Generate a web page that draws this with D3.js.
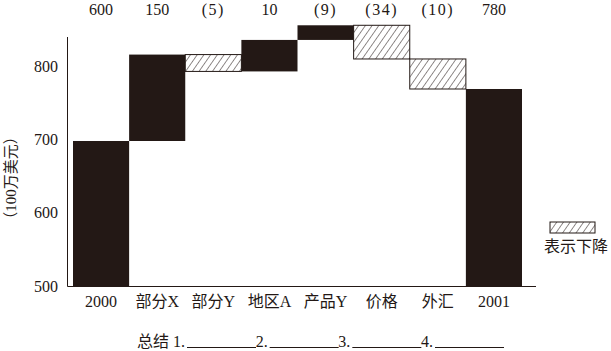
<!DOCTYPE html>
<html>
<head>
<meta charset="utf-8">
<script src="https://cdn.jsdelivr.net/npm/d3@7"></script>
<style>
  body { margin: 0; background: #fff; }
  svg text { font-family: "Times New Roman", "Liberation Serif", Tinos, "DejaVu Serif", "Noto Sans CJK SC", serif; fill: #231815; }
</style>
</head>
<body>
<svg id="chart" width="611" height="351"></svg>
<script>
// 数据
const categories = ['2000', '部分X', '部分Y', '地区A', '产品Y', '价格', '外汇', '2001'];
const changeLabels = ['600', '150', '(5)', '10', '(9)', '(34)', '(10)', '780'];
const barStart = [500, 698, 816, 793, 836, 856, 810, 500];
const barEnd = [698, 816, 793, 836, 856, 810, 769, 769];
const isDecline = [false, false, true, false, false, true, true, false];
const yTicks = [500, 600, 700, 800];
const summaryItems = ['1.', '2.', '3.', '4.'];

const ink = '#231815';
const svg = d3.select('#chart');

// 图案：斜线
svg.append('defs').append('pattern')
    .attr('id', 'hatch')
    .attr('patternUnits', 'userSpaceOnUse')
    .attr('width', 5.5)
    .attr('height', 5.5)
    .attr('patternTransform', 'rotate(35)')
    .append('line')
    .attr('x1', 0).attr('y1', 0)
    .attr('x2', 0).attr('y2', 5.5)
    .attr('stroke', ink)
    .attr('stroke-width', 1);

const x = d3.scaleBand().domain(categories).range([73, 522]).padding(0);
const y = d3.scaleLinear().domain([500, 840]).range([286, 37]);

const bars = categories.map((c, i) => ({
    cat: c, label: changeLabels[i], from: barStart[i], to: barEnd[i], down: isDecline[i]
}));

// 柱子
svg.selectAll('.bar')
    .data(bars)
    .join('rect')
    .attr('class', 'bar')
    .attr('x', d => x(d.cat))
    .attr('width', x.bandwidth())
    .attr('y', d => y(Math.max(d.from, d.to)))
    .attr('height', d => Math.abs(y(d.from) - y(d.to)))
    .attr('fill', d => d.down ? 'url(#hatch)' : ink)
    .attr('stroke', d => d.down ? ink : 'none')
    .attr('stroke-width', 1);

// 坐标轴线
svg.append('path')
    .attr('d', d3.line()([[67.5, y(840)], [67.5, 286.5], [536, 286.5]]))
    .attr('fill', 'none')
    .attr('stroke', ink)
    .attr('stroke-width', 1);

// y轴刻度
const yAxis = svg.append('g')
    .attr('transform', 'translate(67,0)')
    .call(d3.axisLeft(y).tickValues(yTicks).tickSize(0).tickPadding(9));
yAxis.attr('font-family', null);
yAxis.select('.domain').remove();
yAxis.selectAll('text')
    .style('font-size', '16px')
    .attr('fill', ink);

// x轴标签
const xAxis = svg.append('g')
    .attr('transform', 'translate(0,286)')
    .call(d3.axisBottom(x).tickSize(0).tickPadding(10));
xAxis.attr('font-family', null);
xAxis.select('.domain').remove();
xAxis.selectAll('text')
    .style('font-size', '16px')
    .attr('fill', ink);

// 顶部变化值
svg.selectAll('.change')
    .data(bars)
    .join('text')
    .attr('class', 'change')
    .attr('x', d => x(d.cat) + x.bandwidth() / 2)
    .attr('y', 15)
    .attr('text-anchor', 'middle')
    .style('font-size', '16px')
    .style('letter-spacing', d => d.label.startsWith('(') ? '1.5px' : null)
    .text(d => d.label);

// y轴标题
svg.append('text')
    .attr('transform', 'translate(13,178) rotate(-90)')
    .attr('text-anchor', 'middle')
    .attr('dominant-baseline', 'middle')
    .style('font-size', '15px')
    .text('（100万美元）');

// 图例
svg.append('rect')
    .attr('x', 550).attr('y', 222)
    .attr('width', 45).attr('height', 11)
    .attr('fill', 'url(#hatch)')
    .attr('stroke', ink)
    .attr('stroke-width', 1);
svg.append('text')
    .attr('x', 576).attr('y', 252)
    .attr('text-anchor', 'middle')
    .style('font-size', '16px')
    .text('表示下降');

// 总结
const sx = d3.scalePoint().domain(summaryItems).range([173, 421]);
svg.append('text')
    .attr('x', 137).attr('y', 347)
    .style('font-size', '16px')
    .text('总结');
const items = svg.selectAll('.summary')
    .data(summaryItems)
    .join('g')
    .attr('class', 'summary')
    .attr('transform', d => `translate(${sx(d)},0)`);
items.append('text')
    .attr('y', 347)
    .style('font-size', '16px')
    .text(d => d);
items.append('path')
    .attr('d', d3.line()([[14, 347.5], [83, 347.5]]))
    .attr('stroke', ink)
    .attr('stroke-width', 1);
</script>
</body>
</html>
